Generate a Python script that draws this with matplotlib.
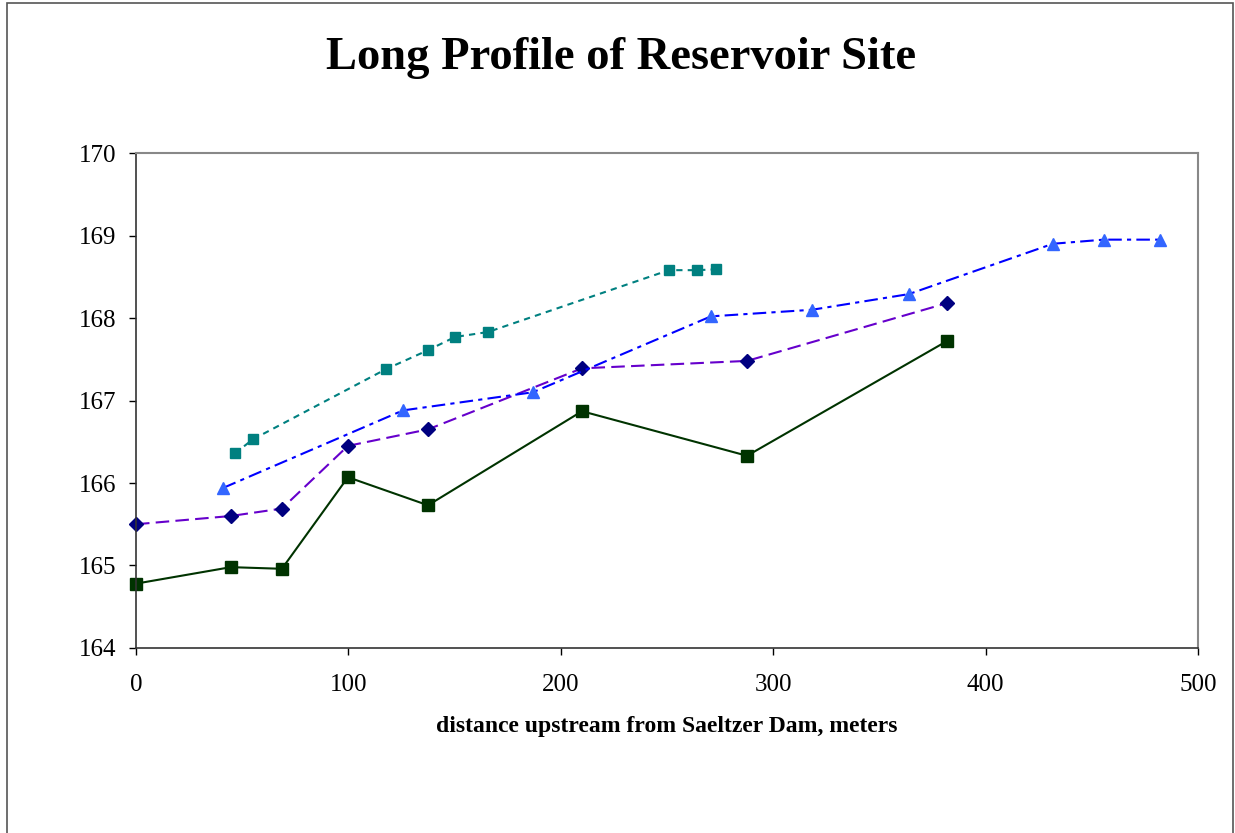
import matplotlib
matplotlib.use("Agg")
import matplotlib.pyplot as plt
from matplotlib.patches import Rectangle

# ---------------- data ----------------
# dark green, solid line, squares
x_green = [0, 44.7, 68.7, 99.8, 137.5, 210.0, 287.7, 381.8]
y_green = [164.78, 164.98, 164.96, 166.07, 165.73, 166.87, 166.33, 167.72]

# navy diamonds, purple dashed line
x_navy = [0, 44.7, 68.7, 99.8, 137.5, 210.0, 287.7, 381.8]
y_navy = [165.50, 165.60, 165.69, 166.45, 166.65, 167.39, 167.48, 168.18]

# light blue triangles, blue dash-dot line
x_blue = [41.0, 125.7, 186.9, 270.7, 318.3, 363.9, 431.7, 455.7, 482.1]
y_blue = [165.94, 166.88, 167.10, 168.02, 168.10, 168.29, 168.90, 168.95, 168.95]

# teal squares, dotted line
x_teal = [46.6, 55.1, 117.7, 137.5, 150.2, 165.7, 250.9, 264.1, 273.1]
y_teal = [166.36, 166.53, 167.38, 167.61, 167.77, 167.83, 168.58, 168.58, 168.59]

x_ticks = [0, 100, 200, 300, 400, 500]
y_ticks = [164, 165, 166, 167, 168, 169, 170]

plt.rcParams['font.family'] = ['Liberation Serif', 'DejaVu Serif']

fig = plt.figure(figsize=(12.35, 8.33), dpi=100)
ax = fig.add_axes([0.1101, 0.2221, 0.8599, 0.5942])

# figure frame
fig.patches.append(Rectangle((0.0057, -0.01), 0.9927, 1.0065, transform=fig.transFigure,
                             fill=False, edgecolor='#555555', linewidth=1.2))

lw = 1.5
ax.plot(x_green, y_green, color='#003300', lw=lw, marker='s', markersize=8,
        markerfacecolor='#003300', markeredgecolor='#003300', clip_on=False)
ax.plot(x_navy, y_navy, color='#6600CC', lw=lw, dashes=(6.5, 3), marker='D', markersize=7,
        markerfacecolor='#000080', markeredgecolor='#000080', clip_on=False)
ax.plot(x_blue, y_blue, color='#0000FF', lw=lw, dashes=(6.5, 2.5, 2, 2.5), marker='^', markersize=9,
        markerfacecolor='#3366FF', markeredgecolor='#3366FF', clip_on=False)
ax.plot(x_teal, y_teal, color='#008080', lw=lw, dashes=(3, 2.5), marker='s', markersize=7.5,
        markerfacecolor='#008080', markeredgecolor='#008080', clip_on=False)

ax.set_xlim(0, 500)
ax.set_ylim(164, 170)
ax.set_xticks(x_ticks)
ax.set_yticks(y_ticks)
ax.tick_params(axis='both', direction='out', length=5, width=1, labelsize=18, color='black')
ax.tick_params(axis='x', pad=14)
ax.tick_params(axis='y', pad=9)

for side in ['top', 'right']:
    ax.spines[side].set_color('#888888')
    ax.spines[side].set_linewidth(1.5)
for side in ['left', 'bottom']:
    ax.spines[side].set_color('#333333')
    ax.spines[side].set_linewidth(1.2)

ax.set_xlabel('distance upstream from Saeltzer Dam, meters', fontsize=17, fontweight='bold', labelpad=14)
fig.text(0.503, 0.93, 'Long Profile of Reservoir Site', ha='center', va='center',
         fontsize=33.5, fontweight='bold')

fig.savefig('out.png', dpi=100)
